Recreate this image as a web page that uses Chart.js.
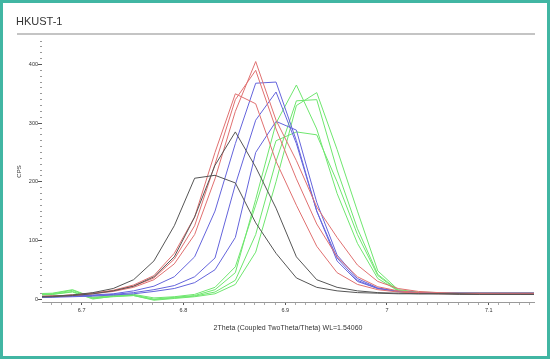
<!DOCTYPE html>
<html>
<head>
<meta charset="utf-8">
<script src="https://cdn.jsdelivr.net/npm/chart.js@4/dist/chart.umd.min.js"></script>
<style>
  body { margin: 0; background: #fff; }
  #wrap { position: absolute; left: 0; top: 0; width: 550px; height: 359px; }
  #frame { position: absolute; left: 0; top: 0; width: 550px; height: 359px; box-sizing: border-box; border: 3px solid #41b6a3; pointer-events: none; }
  #title { position: absolute; left: 16px; top: 16px; font: 11px/11px "Liberation Sans", Arial, sans-serif; color: #333; }
  #rule { position: absolute; left: 17px; top: 33px; width: 518px; height: 2px; background: #c4c4c4; }
</style>
</head>
<body>
<div id="wrap"><canvas id="myChart"></canvas></div>
<div id="title">HKUST-1</div>
<div id="rule"></div>
<div id="frame"></div>
<script>
// 2Theta positions of the scan points
const xGrid = [6.651, 6.671, 6.691, 6.711, 6.731, 6.751, 6.771, 6.791, 6.811, 6.831, 6.851, 6.871, 6.891,
               6.911, 6.931, 6.951, 6.971, 6.991, 7.011, 7.031, 7.051, 7.071, 7.091, 7.111, 7.131, 7.151];

// CPS, one array per scan
const black1 = [4, 5, 7, 11, 18, 33, 65, 125, 206, 211, 198, 130, 78, 36, 20, 14, 11, 10, 9, 9, 9, 8, 8, 8, 8, 8];
const black2 = [3, 4, 6, 9, 14, 22, 38, 72, 140, 228, 285, 225, 155, 72, 33, 20, 14, 11, 10, 9, 9, 9, 8, 8, 8, 8];
const red1 = [4, 5, 7, 10, 15, 24, 40, 78, 140, 250, 350, 333, 235, 160, 90, 45, 25, 16, 12, 10, 9, 9, 9, 8, 8, 8];
const red2 = [4, 5, 7, 10, 14, 22, 36, 68, 125, 230, 340, 390, 290, 205, 128, 72, 38, 21, 14, 11, 10, 9, 9, 9, 9, 9];
const red3 = [4, 5, 6, 9, 13, 20, 33, 60, 110, 205, 320, 405, 305, 236, 157, 105, 58, 30, 18, 13, 11, 10, 10, 10, 10, 10];
const blue1 = [3, 4, 5, 7, 9, 14, 22, 38, 72, 150, 265, 368, 370, 270, 150, 70, 32, 18, 13, 11, 10, 10, 10, 10, 10, 10];
const blue2 = [3, 4, 5, 6, 8, 11, 16, 23, 38, 70, 195, 305, 353, 265, 150, 65, 30, 18, 13, 11, 10, 10, 10, 10, 10, 10];
const blue3 = [3, 3, 4, 5, 7, 9, 13, 18, 28, 50, 105, 250, 303, 288, 165, 75, 35, 19, 13, 11, 10, 10, 10, 10, 10, 10];
const green1 = [8, 9, 15, 2, 5, 7, 0, 3, 6, 16, 45, 170, 300, 365, 290, 180, 95, 35, 14, 11, 10, 10, 10, 10, 10, 10];
const green2 = [7, 8, 13, 1, 4, 6, -2, 1, 4, 9, 25, 80, 200, 330, 352, 255, 150, 48, 16, 12, 11, 10, 10, 10, 10, 10];
const green3 = [6, 8, 12, 0, 5, 6, -1, 2, 5, 12, 32, 110, 235, 338, 340, 220, 120, 42, 15, 11, 10, 10, 10, 10, 10, 10];
const green4 = [9, 10, 16, 3, 6, 8, 2, 4, 8, 20, 55, 160, 270, 285, 280, 200, 110, 40, 14, 11, 10, 10, 10, 10, 10, 10];

const scans = [
  { values: black1, color: '#555555' },
  { values: black2, color: '#555555' },
  { values: red1, color: '#e07070' },
  { values: red2, color: '#e07070' },
  { values: red3, color: '#e07070' },
  { values: blue1, color: '#6464dc' },
  { values: blue2, color: '#6464dc' },
  { values: blue3, color: '#6464dc' },
  { values: green1, color: '#6ee66e' },
  { values: green2, color: '#6ee66e' },
  { values: green3, color: '#6ee66e' },
  { values: green4, color: '#6ee66e' }
];

const FONT = '"Liberation Sans", Arial, sans-serif';

function isMajorX(v) { return Math.abs(v * 10 - Math.round(v * 10)) < 1e-6; }
function isMajorY(v) { return v % 100 === 0; }

const ctx = document.getElementById('myChart').getContext('2d');
const myChart = new Chart(ctx, {
    type: 'line',
    data: {
        datasets: scans.map(s => ({
            data: xGrid.map((x, i) => ({ x: x, y: s.values[i] })),
            borderColor: s.color,
            borderWidth: 1,
            pointRadius: 0,
            tension: 0,
            fill: false
        }))
    },
    options: {
        responsive: true,
        maintainAspectRatio: false,
        animation: false,
        layout: { padding: { left: 0, top: 41, right: 16, bottom: 0 } },
        plugins: {
            legend: { display: false },
            tooltip: { enabled: false }
        },
        scales: {
            x: {
                type: 'linear',
                min: 6.661,
                max: 7.1445,
                afterFit: s => { s.height = 57; },
                border: { display: true, color: '#9a9a9a', width: 1 },
                grid: {
                    drawOnChartArea: false,
                    tickLength: 3,
                    tickColor: c => isMajorX(c.tick.value) ? '#555' : '#aaa'
                },
                ticks: {
                    stepSize: 0.01,
                    includeBounds: false,
                    autoSkip: false,
                    maxRotation: 0,
                    minRotation: 0,
                    padding: 2,
                    color: '#333',
                    font: { family: FONT, size: 5.5 },
                    callback: v => isMajorX(v) ? String(Math.round(v * 10) / 10) : ''
                },
                title: {
                    display: true,
                    text: '2Theta (Coupled TwoTheta/Theta) WL=1.54060',
                    color: '#333',
                    font: { family: FONT, size: 7 },
                    padding: { top: 0, bottom: 27 }
                }
            },
            y: {
                min: -5,
                max: 440,
                afterFit: s => { s.width = 42; },
                border: { display: false },
                grid: {
                    drawOnChartArea: false,
                    tickLength: 4,
                    tickColor: c => isMajorY(c.tick.value) ? '#555' : '#999',
                    tickBorderDash: c => isMajorY(c.tick.value) ? [] : [2, 2],
                    tickBorderDashOffset: c => isMajorY(c.tick.value) ? 0 : 2
                },
                ticks: {
                    stepSize: 10,
                    includeBounds: false,
                    autoSkip: false,
                    padding: 0,
                    color: '#333',
                    font: { family: FONT, size: 5.5 },
                    callback: v => isMajorY(v) ? String(v) : ''
                },
                title: {
                    display: true,
                    text: 'CPS',
                    color: '#333',
                    font: { family: FONT, size: 6 },
                    padding: { top: 16, bottom: 0 }
                }
            }
        }
    }
});
</script>
</body>
</html>
